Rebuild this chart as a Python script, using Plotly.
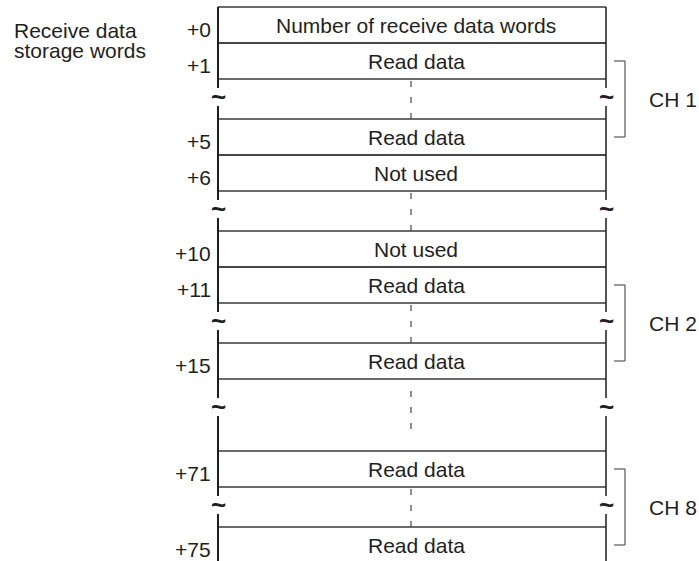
"""Receive data storage words layout, drawn with Plotly shapes and annotations."""

import plotly.graph_objects as go

# word offsets and what each word holds
offsets = ['+0', '+1', '+5', '+6', '+10', '+11', '+15', '+71', '+75']
contents = ['Number of receive data words', 'Read data', 'Read data', 'Not used',
            'Not used', 'Read data', 'Read data', 'Read data', 'Read data']

# channel groups: first and last offset of each bracket
channels = ['CH 1', 'CH 2', 'CH 8']
channel_first = ['+1', '+11', '+71']
channel_last = ['+5', '+15', '+75']

title_lines = ['Receive data', 'storage words']

# geometry (pixel-like units, y grows downward)
W, H = 699, 561
X_LEFT, X_RIGHT = 218, 606
X_MID = (X_LEFT + X_RIGHT) / 2
TOP = 7
ROW_H = 36
GAP_H = 40
BIG_EXTRA = 32

FONT = 'Liberation Sans, Arial, sans-serif'
FONT_SIZE = 21
TEXT_COLOR = '#231f20'
LINE_COLOR = '#3a3a3a'


def layout_rows():
    """Return the top of each row and the list of gaps (top, big?)."""
    tops, gaps = [], []
    y = TOP
    for i, off in enumerate(offsets):
        if i > 0:
            step = int(off) - int(offsets[i - 1])
            if step > 1:
                big = step > 10
                gaps.append((y, big))
                y += GAP_H + (BIG_EXTRA if big else 0)
        tops.append(y)
        y += ROW_H
    return tops, gaps


def line(x0, y0, x1, y1, color=LINE_COLOR, width=1.5, dash='solid'):
    return dict(type='line', xref='x', yref='y', x0=x0, y0=y0, x1=x1, y1=y1,
                line=dict(color=color, width=width, dash=dash))


def label(x, y, text, anchor='center', size=FONT_SIZE):
    return dict(x=x, y=y, xref='x', yref='y', text=text, showarrow=False,
                xanchor=anchor, yanchor='middle',
                font=dict(family=FONT, size=size, color=TEXT_COLOR))


tops, gaps = layout_rows()
centers = [t + ROW_H / 2 for t in tops]

shapes = []
annotations = []

# horizontal lines: top of every row, bottom of all but the last (cut off)
for i, t in enumerate(tops):
    shapes.append(line(X_LEFT, t, X_RIGHT, t))
    if i < len(tops) - 1:
        shapes.append(line(X_LEFT, t + ROW_H, X_RIGHT, t + ROW_H))

# vertical side lines, broken at every ~ mark
breaks = [gt + (28 if big else 18) for gt, big in gaps]
y_start = TOP
for ty in breaks:
    shapes.append(line(X_LEFT, y_start, X_LEFT, ty - 9, color='#1e1e1e', width=2))
    shapes.append(line(X_RIGHT, y_start, X_RIGHT, ty - 9, color='#2a2a2a', width=1.6))
    y_start = ty + 9
shapes.append(line(X_LEFT, y_start, X_LEFT, H + 5, color='#1e1e1e', width=2))
shapes.append(line(X_RIGHT, y_start, X_RIGHT, H + 5, color='#2a2a2a', width=1.6))

# ~ marks on both sides and the dashed centre line through each gap
for (gt, big), ty in zip(gaps, breaks):
    for x in (X_LEFT, X_RIGHT):
        annotations.append(dict(x=x, y=ty, xref='x', yref='y', text='<b>~</b>',
                                showarrow=False, xanchor='center', yanchor='middle',
                                font=dict(family=FONT, size=26, color='#1e1e1e')))
    d0 = gt + (12 if big else 2)
    shapes.append(line(X_MID - 1, d0, X_MID - 1, d0 + 38, color='#444', width=1.2,
                       dash='6px,10px'))

# row contents and offsets
for off, txt, c in zip(offsets, contents, centers):
    annotations.append(label(X_MID + 4, c, txt))
    annotations.append(label(X_LEFT - 5, c + 4, off, anchor='right'))

# channel brackets
for name, first, last in zip(channels, channel_first, channel_last):
    y0 = centers[offsets.index(first)]
    y1 = centers[offsets.index(last)]
    shapes.append(line(625, y0, 625, y1, color='#555', width=1.2))
    shapes.append(line(614, y0, 625, y0, color='#555', width=1.2))
    shapes.append(line(614, y1, 625, y1, color='#555', width=1.2))
    annotations.append(label(647, (y0 + y1) / 2, name, anchor='left'))

# heading on the left
for i, t in enumerate(title_lines):
    annotations.append(label(12, 30 + 20 * i, t, anchor='left'))

fig = go.Figure()
fig.update_layout(
    width=W,
    height=H,
    margin=dict(l=0, r=0, t=0, b=0),
    paper_bgcolor='white',
    plot_bgcolor='white',
    showlegend=False,
    xaxis=dict(range=[0, W], visible=False, fixedrange=True),
    yaxis=dict(range=[H, 0], visible=False, fixedrange=True),
    shapes=shapes,
    annotations=annotations,
)

# drop the page's default body margin so the figure sits at the window corner
fig.write_html('out.html', config={'displayModeBar': False},
               post_script="document.body.style.margin='0';")
